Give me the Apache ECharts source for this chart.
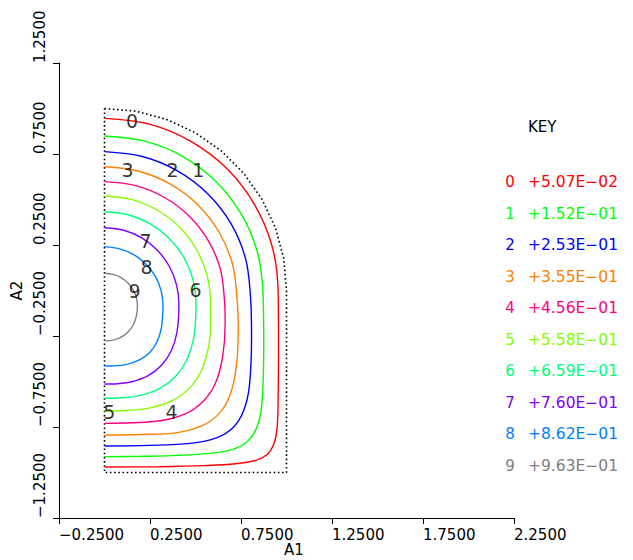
<!DOCTYPE html>
<html><head><meta charset="utf-8">
<script src="https://cdn.jsdelivr.net/npm/echarts@6/dist/echarts.min.js"></script>
<style>html,body{margin:0;padding:0;background:#fff}#c{width:633px;height:560px}</style>
</head><body><div id="c"></div>
<script>
// ---- data ----
const xTicks = [-0.25, 0.25, 0.75, 1.25, 1.75, 2.25];
const xTickLabels = ['\u22120.2500', '0.2500', '0.7500', '1.2500', '1.7500', '2.2500'];
const yTicks = [-1.25, -0.75, -0.25, 0.25, 0.75, 1.25];
const yTickLabels = ['\u22121.2500', '\u22120.7500', '\u22120.2500', '0.2500', '0.7500', '1.2500'];
const xAxisName = 'A1';
const yAxisName = 'A2';
const levelIds = ['0', '1', '2', '3', '4', '5', '6', '7', '8', '9'];
const levelValues = ['+5.07E\u221202', '+1.52E\u221201', '+2.53E\u221201', '+3.55E\u221201', '+4.56E\u221201',
  '+5.58E\u221201', '+6.59E\u221201', '+7.60E\u221201', '+8.62E\u221201', '+9.63E\u221201'];
const boundary = [[0,1],[0.174,0.985],[0.342,0.940],[0.5,0.866],[0.643,0.766],[0.766,0.643],[0.866,0.5],
  [0.940,0.342],[0.985,0.174],[1,0],[1,-1],[0,-1],[0,1]];
const contour0 = [[0,0.946],[0.247,0.914],[0.477,0.818],[0.675,0.667],[0.826,0.469],[0.922,0.239],[0.954,-0.008],
  [0.956,-0.3],[0.954,-0.6],[0.948,-0.76],[0.930,-0.845],[0.895,-0.900],[0.835,-0.932],[0.72,-0.952],
  [0.55,-0.962],[0.3,-0.968],[0,-0.970]];
const contour1 = [[0,0.849],[0.226,0.819],[0.436,0.733],[0.616,0.595],[0.754,0.415],[0.841,0.206],[0.871,-0.019],
  [0.875,-0.3],[0.865,-0.62],[0.838,-0.749],[0.789,-0.826],[0.713,-0.870],[0.6,-0.892],[0.4,-0.906],
  [0.2,-0.911],[0,-0.913]];
const contour2 = [[0,0.763],[0.208,0.736],[0.401,0.657],[0.567,0.531],[0.695,0.367],[0.775,0.175],[0.802,-0.030],
  [0.808,-0.25],[0.796,-0.525],[0.763,-0.664],[0.707,-0.753],[0.615,-0.810],[0.47,-0.840],[0.25,-0.851],[0,-0.854]];
const contour3 = [[0,0.680],[0.189,0.655],[0.364,0.583],[0.515,0.469],[0.630,0.320],[0.703,0.146],[0.728,-0.041],
  [0.735,-0.22],[0.721,-0.443],[0.685,-0.586],[0.624,-0.682],[0.531,-0.745],[0.391,-0.782],[0.2,-0.791],[0,-0.794]];
const contour4 = [[0,0.598],[0.171,0.576],[0.330,0.511],[0.466,0.408],[0.571,0.273],[0.637,0.116],[0.659,-0.052],
  [0.663,-0.18],[0.649,-0.365],[0.610,-0.508],[0.543,-0.608],[0.446,-0.676],[0.306,-0.716],[0.15,-0.727],[0,-0.730]];
const contour5 = [[0,0.519],[0.151,0.499],[0.291,0.441],[0.412,0.349],[0.504,0.228],[0.562,0.088],[0.582,-0.063],
  [0.582,-0.217],[0.573,-0.306],[0.533,-0.440],[0.468,-0.535],[0.369,-0.607],[0.238,-0.648],[0.11,-0.659],[0,-0.662]];
const contour6 = [[0,0.433],[0.130,0.416],[0.252,0.366],[0.356,0.286],[0.436,0.182],[0.486,0.061],[0.503,-0.069],
  [0.490,-0.261],[0.452,-0.382],[0.389,-0.474],[0.301,-0.539],[0.185,-0.579],[0.09,-0.589],[0,-0.592]];
const contour7 = [[0,0.345],[0.106,0.331],[0.205,0.289],[0.289,0.222],[0.354,0.136],[0.395,0.034],[0.409,-0.074],
  [0.398,-0.230],[0.366,-0.332],[0.313,-0.411],[0.240,-0.468],[0.145,-0.503],[0.07,-0.512],[0,-0.514]];
const contour8 = [[0,0.241],[0.083,0.229],[0.161,0.197],[0.227,0.146],[0.278,0.080],[0.310,0.003],[0.321,-0.080],
  [0.313,-0.203],[0.289,-0.280],[0.250,-0.339],[0.192,-0.381],[0.118,-0.407],[0.055,-0.414],[0,-0.415]];
const contour9 = [[0,0.095],[0.047,0.089],[0.091,0.071],[0.128,0.042],[0.157,0.005],[0.175,-0.038],[0.181,-0.085],
  [0.175,-0.141],[0.159,-0.187],[0.132,-0.225],[0.096,-0.253],[0.053,-0.271],[0,-0.277]];
const contourLabelPos = [[0.152,0.931],[0.516,0.662],[0.374,0.662],[0.126,0.662],[0.368,-0.668],
  [0.027,-0.668],[0.500,0.003],[0.225,0.272],[0.231,0.129],[0.165,-0.003]];

// ---- styles ----
const contours = [contour0, contour1, contour2, contour3, contour4, contour5, contour6, contour7, contour8, contour9];
const colors = ['#ff0000', '#00ff00', '#0000ff', '#ff8000', '#ff0080', '#80ff00', '#00ff80', '#8000ff', '#0080ff', '#808080'];
const FONT = '"DejaVu Sans", "Liberation Sans", sans-serif';

function lab(ticks, labels) {
  return v => { const i = ticks.findIndex(t => Math.abs(t - v) < 1e-6); return i >= 0 ? labels[i] : ''; };
}

const series = [{
  type: 'line', data: boundary, showSymbol: false, symbol: 'none', silent: true, z: 3,
  lineStyle: { color: '#000', width: 1.6, type: [1.6, 2.6] }
}];
contours.forEach((c, i) => series.push({
  type: 'line', data: c, smooth: 0.35, showSymbol: false, symbol: 'none', silent: true, z: 4,
  lineStyle: { color: colors[i], width: 1.4 }
}));
series.push({
  type: 'scatter', symbolSize: 0, silent: true, z: 6,
  data: contourLabelPos.map((p, i) => ({ value: p, name: levelIds[i] })),
  label: { show: true, position: 'inside', formatter: p => p.name, color: '#000', fontSize: 19, fontFamily: FONT }
});

const graphics = [{
  type: 'text', x: 528, y: 127,
  style: { text: 'KEY', fill: '#000', font: '15px ' + FONT, align: 'left', verticalAlign: 'middle', textAlign: 'left', textVerticalAlign: 'middle' }
}, {
  type: 'text', x: 294, y: 550,
  style: { text: xAxisName, fill: '#000', font: '15px ' + FONT, align: 'center', verticalAlign: 'middle', textAlign: 'center', textVerticalAlign: 'middle' }
}];
levelIds.forEach((id, i) => {
  const y = 182 + i * 31.5;
  graphics.push({ type: 'text', x: 510, y: y,
    style: { text: id, fill: colors[i], font: '15px ' + FONT, align: 'center', verticalAlign: 'middle', textAlign: 'center', textVerticalAlign: 'middle' } });
  graphics.push({ type: 'text', x: 528, y: y,
    style: { text: levelValues[i], fill: colors[i], font: '15.5px ' + FONT, align: 'left', verticalAlign: 'middle', textAlign: 'left', textVerticalAlign: 'middle' } });
});

const chart = echarts.init(document.getElementById('c'), null, { renderer: 'svg' });
chart.setOption({
  animation: false,
  backgroundColor: '#fff',
  grid: { left: 59, top: 63, width: 455, height: 455, containLabel: false, outerBoundsMode: 'none' },
  xAxis: {
    type: 'value', min: -0.25, max: 2.25, interval: 0.5,
    axisLine: { onZero: false, lineStyle: { color: '#000', width: 1 } },
    axisTick: { show: true, length: 6, lineStyle: { color: '#000' } },
    splitLine: { show: false },
    axisLabel: { formatter: lab(xTicks, xTickLabels), align: 'left', verticalAlign: 'top', margin: 9,
      color: '#000', fontSize: 15, fontFamily: FONT, showMinLabel: true, showMaxLabel: true }
  },
  yAxis: {
    type: 'value', min: -1.25, max: 1.25, interval: 0.5,
    name: yAxisName, nameLocation: 'middle', nameGap: 33, nameRotate: 90,
    nameTextStyle: { color: '#000', fontSize: 15, fontFamily: FONT },
    axisLine: { onZero: false, lineStyle: { color: '#000', width: 1 } },
    axisTick: { show: true, length: 6, lineStyle: { color: '#000' } },
    splitLine: { show: false },
    axisLabel: { formatter: lab(yTicks, yTickLabels), rotate: 90, align: 'left', verticalAlign: 'middle', margin: 19,
      color: '#000', fontSize: 15, fontFamily: FONT, showMinLabel: true, showMaxLabel: true }
  },
  graphic: graphics,
  series: series
});
</script></body></html>
